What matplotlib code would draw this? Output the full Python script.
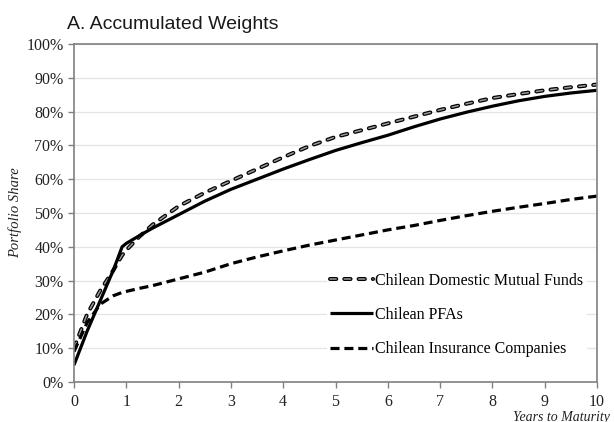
import matplotlib

matplotlib.use("Agg")
import matplotlib.pyplot as plt
from matplotlib.ticker import FuncFormatter

# Years to maturity shared by all three series
years = [0, 0.25, 0.5, 0.75, 0.92, 1, 1.25, 1.5, 2, 2.5, 3, 3.5, 4, 4.5,
         5, 5.5, 6, 6.5, 7, 7.5, 8, 8.5, 9, 9.5, 10]

# Accumulated portfolio share (%)
mutual_funds = [10, 20, 27, 33, 37.5, 39, 43, 46.5, 52, 56, 59.5, 63, 66.5, 69.8,
                72.5, 74.5, 76.5, 78.5, 80.5, 82.3, 84, 85.2, 86.3, 87.2, 88]
pfas = [5, 15, 24, 33, 40, 41, 43.3, 45.5, 49.5, 53.5, 57, 60, 63, 65.8,
        68.5, 70.8, 73, 75.5, 77.8, 79.8, 81.6, 83.2, 84.5, 85.5, 86.3]
insurance = [9, 17.5, 23, 25.5, 26.5, 26.8, 27.7, 28.5, 30.5, 32.5, 35, 37, 38.8, 40.5,
             42, 43.5, 45, 46.3, 47.8, 49.2, 50.5, 51.7, 52.8, 54, 55]

labels = ["Chilean Domestic Mutual Funds", "Chilean PFAs", "Chilean Insurance Companies"]
serif = ["Liberation Serif", "DejaVu Serif"]

plt.rcParams["lines.scale_dashes"] = False

fig = plt.figure(figsize=(6.14, 4.22), dpi=100)
ax = fig.add_axes([0.1205, 0.0948, 0.852, 0.801])

# outlined dashes: wide black capsules with a grey core
mf_edge, = ax.plot(years, mutual_funds, color="black", lw=2.9,
                   linestyle=(0, (4.5, 5.8)), dash_capstyle="round")
mf_core, = ax.plot(years, mutual_funds, color="#9a9a9a", lw=1.1,
                   linestyle=(0, (4.5, 5.8)), dash_capstyle="round")
pfa_line, = ax.plot(years, pfas, color="black", lw=2.3, solid_capstyle="butt")
ins_line, = ax.plot(years, insurance, color="black", lw=2.3,
                    linestyle=(0, (6.5, 3.5)), dash_capstyle="butt")

ax.set_xlim(0, 10)
ax.set_ylim(0, 100)
ax.set_xticks(range(0, 11))
ax.set_yticks(range(0, 101, 10))
ax.yaxis.set_major_formatter(FuncFormatter(lambda v, _: f"{int(v)}%"))
ax.grid(axis="y", color="#e4e4e4", lw=0.9)
ax.set_axisbelow(True)
for s in ax.spines.values():
    s.set_color("#808080")
    s.set_linewidth(1.2)
ax.tick_params(direction="out", length=4, width=1, color="#808080",
               labelcolor="#222222", labelsize=11.5)
ax.tick_params(axis="x", pad=5)
for t in ax.get_xticklabels() + ax.get_yticklabels():
    t.set_family(serif)

ax.set_ylabel("Portfolio Share", family=serif, style="italic", fontsize=10.5,
              color="#222222", labelpad=3)
fig.text(0.836, 0.026, "Years to Maturity", family=serif, style="italic",
         fontsize=10, color="#222222", ha="left", va="top")
fig.text(0.109, 0.931, "A. Accumulated Weights", family=["Liberation Sans", "DejaVu Sans"],
         fontsize=14, color="#1a1a1a", va="baseline")

leg = ax.legend([(mf_edge, mf_core), pfa_line, ins_line], labels,
                loc="center left", bbox_to_anchor=(0.483, 0.198), borderaxespad=0,
                borderpad=0.2, handlelength=2.7, handletextpad=0.15, labelspacing=1.15,
                frameon=True, facecolor="white", edgecolor="none", framealpha=1,
                fancybox=False, prop={"family": serif, "size": 11.5})

fig.savefig("out.png", dpi=100)
plt.close(fig)
